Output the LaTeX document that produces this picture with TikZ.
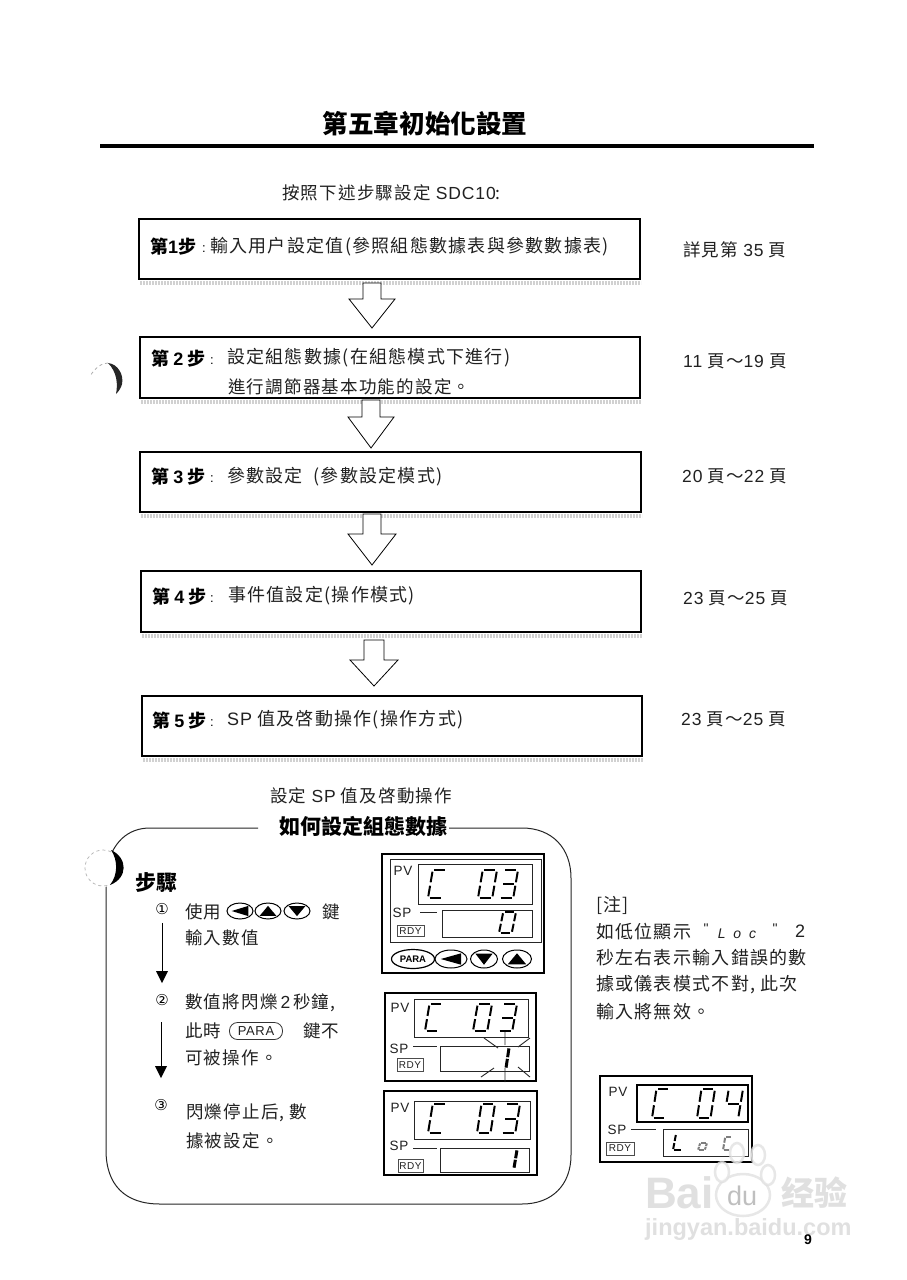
\documentclass[tikz,border=0pt]{standalone}
\usepackage{fontspec}
\setmainfont{Noto Sans CJK TC}
\newfontfamily\bodyf[LetterSpace=7]{Noto Sans CJK TC}
\newfontfamily\bodyg[LetterSpace=7]{Noto Sans CJK TC}
\newfontfamily\lat{Liberation Sans}
\newfontfamily\latS[LetterSpace=5]{Liberation Sans}
\newfontfamily\sym{DejaVu Sans}
\newfontfamily\cjksc{Noto Sans CJK SC}
\usetikzlibrary{shapes.geometric,calc}
\definecolor{ink}{gray}{0.13}
\definecolor{wm}{gray}{0.88}
\tikzset{
 stepbox/.style={draw=black,line width=2.4pt,rectangle},
 tx/.style={anchor=west,inner sep=0pt,text=ink,font=\bodyf\fontsize{18}{20}\selectfont},
 txb/.style={anchor=west,inner sep=0pt,text=ink,font=\bodyg\fontsize{17.5}{20}\selectfont},
 lbl/.style={anchor=west,inner sep=0pt,text=black,font=\fontsize{18}{20}\selectfont\bfseries},
 hollow/.style={draw=black,line width=0.8pt,fill=white,line join=miter},
 speck/.style={draw=black!45,line width=3.5pt,dash pattern=on 1.6pt off 1.4pt,opacity=.4},
 segl/.style={draw=black,line width=2pt,line cap=butt},
 segt/.style={draw=black,line width=3pt,line cap=butt},
 frame/.style={draw=black,line width=1.4pt},
 disp/.style={draw=black!85,line width=.9pt},
 lab/.style={inner sep=0pt,text=ink,font=\latS\fontsize{13.5}{14}\selectfont},
 rdy/.style={draw=black!70,line width=.7pt,inner sep=0pt,text=ink,font=\latS\fontsize{10}{10}\selectfont},
 flow/.style={draw=black,line width=.8pt},
 tip/.style={fill=black,draw=none},
 wmt/.style={inner sep=0pt,text=wm,anchor=west},
 circ/.style={inner sep=0pt,text=black,font=\sym\fontsize{15}{15}\selectfont},
 colon/.style={anchor=west,inner sep=0pt,font=\lat\fontsize{13}{13}\selectfont},
}
\newcommand\segA{\draw[segl] (.12,0)--(.88,0);}
\newcommand\segB{\draw[segl] (1,.06)--(1,.44);}
\newcommand\segC{\draw[segl] (1,.56)--(1,.94);}
\newcommand\segD{\draw[segl] (.12,1)--(.88,1);}
\newcommand\segE{\draw[segl] (0,.56)--(0,.94);}
\newcommand\segF{\draw[segl] (0,.06)--(0,.44);}
\newcommand\segG{\draw[segl] (.12,.5)--(.88,.5);}
\newcommand\segdig[5]{\begin{scope}[shift={({#1+0.25*#3},#2)},x={(0.75*#3pt,0pt)},y={(-0.25*#3pt,-#4pt)}]#5\end{scope}}
\newcommand\dC{\segA\segF\segE\segD}
\newcommand\dO{\segA\segB\segC\segD\segE\segF}
\newcommand\dT{\segA\segB\segC\segD\segG}
\newcommand\dF{\segF\segG\segB\segC}
\newcommand\dIT{\draw[segt] (1,.02)--(1,.46);\draw[segt] (1,.54)--(1,.98);}
\newcommand\harrow[6]{\draw[hollow] (#1-#5,#2)--(#1+#5,#2)--(#1+#5,#3)--(#1+#6,#3)--(#1,#4)--(#1-#6,#3)--(#1-#5,#3)--cycle;}
\newcommand\keyL[5]{\node[draw=black,line width=1pt,ellipse,minimum width=#4pt,minimum height=#5pt,inner sep=0pt,fill=white] (#1) at (#2,#3) {};\fill (#2-#4*.32,#3)--(#2+#4*.32,#3-#5*.32)--(#2+#4*.32,#3+#5*.32)--cycle;}
\newcommand\keyU[5]{\node[draw=black,line width=1pt,ellipse,minimum width=#4pt,minimum height=#5pt,inner sep=0pt,fill=white] (#1) at (#2,#3) {};\fill (#2,#3-#5*.32)--(#2+#4*.32,#3+#5*.3)--(#2-#4*.32,#3+#5*.3)--cycle;}
\newcommand\keyD[5]{\node[draw=black,line width=1pt,ellipse,minimum width=#4pt,minimum height=#5pt,inner sep=0pt,fill=white] (#1) at (#2,#3) {};\fill (#2,#3+#5*.32)--(#2+#4*.32,#3-#5*.3)--(#2-#4*.32,#3-#5*.3)--cycle;}
\newcommand\stepb[5]{\draw[speck] (#2+2,#5+5)--(#4+2,#5+5);\node[stepbox,anchor=north west,minimum width=#4pt-#2pt,minimum height=#5pt-#3pt,inner sep=0pt] (#1) at (#2,#3) {};}
\begin{document}
\begin{tikzpicture}[x=1pt,y=-1pt]
\useasboundingbox (0,0) rectangle (906,1280);
\fill[white] (0,0) rectangle (906,1280);
% header
\node[inner sep=0pt,text=black,font=\fontsize{25.6}{28}\selectfont\bfseries] (title) at (425,124) {第五章初始化設置};
\coordinate (ruleL) at (100,146);\coordinate (ruleR) at (814,146);
\draw[line width=4pt] (ruleL)--(ruleR);
\node[txb] (intro) at (282,193) {按照下述步驟設定 {\latS SDC10}:};
% step boxes
\stepb{s1}{138}{218}{639}{278}
\stepb{s2}{139}{336}{639}{397}
\stepb{s3}{139}{451}{640}{511}
\stepb{s4}{140}{570}{640}{631}
\stepb{s5}{141}{695}{641}{755}
\harrow{372}{283}{299}{328}{9}{23}
\harrow{371}{400}{417}{448}{9}{23}
\harrow{372}{514}{534}{565}{9}{24}
\harrow{374}{640}{660}{686}{10}{24}
\node[lbl] (l1) at (150,247) {第{\lat\bfseries 1}步};
\node[colon] (c1a) at (202,249) {:};
\node[tx] (t1) at (210,247) {輸入用户設定值(參照組態數據表與參數數據表)};
\node[lbl] (l2) at (151,359) {第 {\lat\bfseries 2} 步};
\node[colon] (c2a) at (210,361) {:};
\node[tx] (t2) at (227,358) {設定組態數據(在組態模式下進行)};
\node[txb] (t2b) at (228,387) {進行調節器基本功能的設定。};
\node[lbl] (l3) at (151,477) {第 {\lat\bfseries 3} 步};
\node[colon] (c3a) at (210,479) {:};
\node[tx] (t3) at (227,477) {參數設定\ \ (參數設定模式)};
\node[lbl] (l4) at (152,597) {第 {\lat\bfseries 4} 步};
\node[colon] (c4a) at (210,599) {:};
\node[tx] (t4) at (228,596) {事件值設定(操作模式)};
\node[lbl] (l5) at (152,721) {第 {\lat\bfseries 5} 步};
\node[colon] (c5a) at (210,723) {:};
\node[tx] (t5) at (227,720) {{\latS SP} 值及啓動操作(操作方式)};
\node[txb] (r1) at (683,250) {詳見第 {\latS 35} 頁};
\node[txb] (r2) at (683,361) {{\latS 11} 頁～{\latS 19} 頁};
\node[txb] (r3) at (682,476) {{\latS 20} 頁～{\latS 22} 頁};
\node[txb] (r4) at (683,598) {{\latS 23} 頁～{\latS 25} 頁};
\node[txb] (r5) at (681,719) {{\latS 23} 頁～{\latS 25} 頁};
\node[txb] (below) at (270,796) {設定 {\latS SP} 值及啓動操作};
% binder mark beside step 2
\fill[black!85] (108,363) .. controls (118,364) and (124,375) .. (122,384) .. controls (121,388) and (119,391) .. (116,394) .. controls (118,384) and (117,372) .. (108,363) -- cycle;
\draw[black!35,line width=.7pt,dashed] (108,363) .. controls (102,363) and (96,367) .. (90,376);
% big rounded frame
\draw[line width=1pt,draw=black!85] (258,828)--(150,828) .. controls (128,828) and (112,842) .. (106,870)--(106,1150) .. controls (106,1185) and (125,1204) .. (160,1204)--(522,1204) .. controls (552,1204) and (571,1185) .. (571,1155)--(571,878) .. controls (571,848) and (552,828) .. (522,828)--(449,828);
\node[anchor=west,inner sep=0pt,text=black,font=\fontsize{21}{24}\selectfont\bfseries] (howto) at (279,826) {如何設定組態數據};
% hole
\fill[white] (103,868) circle (19);
\draw[black!30,line width=.7pt,dashed] (103,868) circle (18);
\fill[black] (111,850) .. controls (128,858) and (128,878) .. (110,885) .. controls (118,875) and (118,860) .. (111,850) -- cycle;
% procedure
\node[anchor=west,inner sep=0pt,text=black,font=\fontsize{21}{24}\selectfont\bfseries] (bz) at (135,883) {步驟};
\node[circ] (n1) at (162,909) {①};
\node[txb] (a1) at (185,912) {使用};
\keyL{k1}{240}{911}{26}{16}
\keyU{k2}{268}{911}{26}{16}
\keyD{k3}{297}{911}{26}{16}
\node[txb] (a1b) at (322,912) {鍵};
\node[txb] (a2) at (185,938) {輸入數值};
\coordinate (a1end) at (162,971);
\draw[flow] ($(n1.south)+(0,8)$) -- (a1end);
\fill[tip] (156,971)--(168,971)--(162,983)--cycle;
\node[circ] (n2) at (162,1000) {②};
\node[txb] (b1) at (185,1003) {數值將閃爍{\latS\,2\,}秒鐘,};
\node[txb] (b2) at (185,1031) {此時};
\node[draw=black!80,line width=.8pt,rounded corners=8pt,minimum width=53pt,minimum height=17pt,inner sep=0pt,text=ink,font=\latS\fontsize{13}{13}\selectfont] (kp) at (256,1031) {PARA};
\node[txb] (b2b) at (303,1031) {鍵不};
\node[txb] (b3) at (185,1058) {可被操作。};
\coordinate (a2end) at (161,1066);
\draw[flow] (161,1022) -- (a2end);
\fill[tip] (155,1066)--(167,1066)--(161,1078)--cycle;
\node[circ] (n3) at (161,1105) {③};
\node[txb] (c1) at (186,1113) {閃爍停止后, 數};
\node[txb] (c2) at (186,1141) {據被設定。};
% notes
\node[tx] (nt0) at (596,905) {[注]};
\node[tx] (nt1) at (596,932) {如低位顯示};
\node[inner sep=0pt,text=ink,font=\lat\fontsize{14}{14}\selectfont] (q1) at (706,929) {\textquotedbl};
\node[inner sep=0pt,text=ink,font=\lat\itshape\fontsize{14}{14}\selectfont] (loc) at (737,934) {L\ \ o\ \ c};
\node[inner sep=0pt,text=ink,font=\lat\fontsize{14}{14}\selectfont] (q2) at (775,929) {\textquotedbl};
\node[tx] (two) at (795,931) {{\latS 2}};
\node[tx] (nt2) at (596,958) {秒左右表示輸入錯誤的數};
\node[tx] (nt3) at (596,985) {據或儀表模式不對, 此次};
\node[tx] (nt4) at (596,1012) {輸入將無效。};
% panel 1
\draw[frame] (382,854) rectangle (544,973);
\draw[disp] (390,859) rectangle (541,942);
\draw[disp] (418,864) rectangle (532,904);
\draw[disp] (442,910) rectangle (532,937);
\node[lab] (pv1) at (403,871) {PV};
\node[lab] (sp1) at (402,913) {SP};
\draw[disp] (420,912)--(437,912);
\node[rdy,minimum width=27pt,minimum height=11pt] (rd1) at (410.5,931) {RDY};
\segdig{428}{870}{19}{28}{\dC}
\segdig{478}{870}{19}{28}{\dO}
\segdig{499}{870}{19}{28}{\dT}
\segdig{499}{912}{17}{21}{\dO}
\node[draw=black,line width=1.2pt,ellipse,minimum width=43pt,minimum height=19pt,inner sep=0pt,font=\lat\bfseries\fontsize{9.5}{10}\selectfont] (kpara) at (413,959) {PARA};
\keyL{kl}{451}{959}{32}{18}
\keyD{kd}{484}{959}{27}{18}
\keyU{ku}{517}{959}{29}{18}
% panel 2
\draw[frame] (385,993) rectangle (536,1081);
\draw[disp] (414,999) rectangle (528,1037);
\draw[disp] (440,1046) rectangle (529,1071);
\node[lab] (pv2) at (400,1008) {PV};
\node[lab] (sp2) at (399,1049) {SP};
\draw[disp] (413,1046)--(437,1046);
\node[rdy,minimum width=26pt,minimum height=13pt] (rd2) at (410,1065) {RDY};
\segdig{425}{1004}{18}{27}{\dC}
\segdig{473}{1004}{19}{27}{\dO}
\segdig{498}{1004}{19}{27}{\dT}
\segdig{497}{1048}{12}{20}{\dIT}
\draw[disp] (505,1032)--(505,1045) (505,1068)--(505,1082) (484,1038)--(498,1048) (530,1038)--(518,1047) (494,1068)--(481,1077) (518,1067)--(530,1077);
% panel 3
\draw[frame] (384,1091) rectangle (537,1175);
\draw[disp] (414,1101) rectangle (530,1139);
\draw[disp] (440,1148) rectangle (529,1172);
\node[lab] (pv3) at (400,1108) {PV};
\node[lab] (sp3) at (399,1146) {SP};
\draw[disp] (413,1148)--(437,1148);
\node[rdy,minimum width=25pt,minimum height=13pt] (rd3) at (410.5,1166) {RDY};
\segdig{428}{1104}{19}{29}{\dC}
\segdig{477}{1104}{18}{29}{\dO}
\segdig{501}{1104}{19}{29}{\dT}
\segdig{505}{1150}{12}{18}{\dIT}
% panel 4
\draw[frame] (600,1076) rectangle (752,1162);
\draw[line width=1.2pt] (637,1085) rectangle (748,1122);
\draw[disp] (663,1129) rectangle (748,1156);
\node[lab] (pv4) at (618,1092) {PV};
\node[lab] (sp4) at (617,1130) {SP};
\draw[disp] (631,1129)--(656,1129);
\node[rdy,minimum width=28pt,minimum height=13pt] (rd4) at (620,1148.5) {RDY};
\segdig{652}{1089}{18}{29}{\dC}
\segdig{697}{1089}{18}{29}{\dO}
\segdig{724}{1089}{19}{29}{\dF}
\segdig{673}{1134}{12}{16}{\segF\segE\segD}
\begin{scope}[opacity=.5]
\segdig{698}{1143}{9}{7}{\segA\segB\segC\segD\segE\segF}
\segdig{723}{1137}{9}{13}{\segA\segE\segF\segD}
\end{scope}
% watermark
\begin{scope}[opacity=.75]
\filldraw[fill=white,draw=wm,line width=2.5pt] (743,1195) ellipse (27 and 21);
\filldraw[fill=white,draw=wm,line width=2.5pt] (722,1172) ellipse (7 and 10);
\filldraw[fill=white,draw=wm,line width=2.5pt] (737,1153) ellipse (7 and 10);
\filldraw[fill=white,draw=wm,line width=2.5pt] (758,1155) ellipse (7 and 10);
\filldraw[fill=white,draw=wm,line width=2.5pt] (768,1175) ellipse (7 and 10);
\end{scope}
\node[wmt,font=\lat\bfseries\fontsize{44}{48}\selectfont] (wm1) at (645,1193) {Bai};
\node[wmt,font=\lat\fontsize{27}{30}\selectfont,text=black!25] (wm2) at (727,1196) {du};
\node[wmt,font=\cjksc\bfseries\fontsize{33}{36}\selectfont] (wm3) at (781,1193) {经验};
\node[wmt,font=\lat\bfseries\fontsize{23.5}{26}\selectfont] (wm4) at (645,1229) {jingyan.baidu.com};
\node[inner sep=0pt,text=black,font=\lat\bfseries\fontsize{14}{14}\selectfont] (pg) at (808,1240) {9};
\end{tikzpicture}
\end{document}
